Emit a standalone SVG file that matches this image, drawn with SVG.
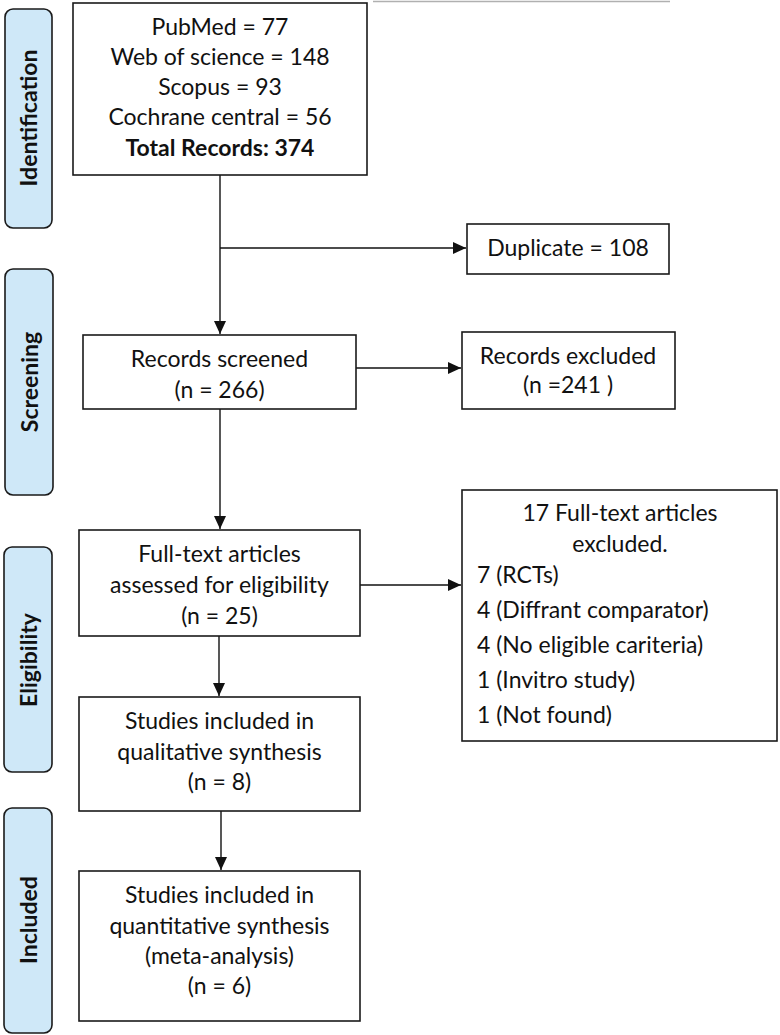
<svg xmlns="http://www.w3.org/2000/svg" width="780" height="1035" viewBox="0 0 780 1035">
<defs>
<style>
.box{fill:#fff;stroke:#1a1a1a;stroke-width:1.6}
.tab{fill:#cfe8f8;stroke:#1a1a1a;stroke-width:1.6}
.t{font-family:Lato,"Liberation Sans",sans-serif;font-size:23px;fill:#111;text-anchor:middle}
.l{text-anchor:start}
.b{font-weight:bold}
.tt{font-family:Lato,"Liberation Sans",sans-serif;font-size:23px;font-weight:bold;fill:#111;text-anchor:middle}
.c{fill:none;stroke:#111;stroke-width:1.4}
</style>
<marker id="ah" markerUnits="userSpaceOnUse" markerWidth="14" markerHeight="12" refX="13" refY="6" orient="auto">
<path d="M0,0 L13,6 L0,12 Z" fill="#111"/>
</marker>
</defs>
<rect width="780" height="1035" fill="#fff"/>
<line x1="373" y1="1.5" x2="670" y2="1.5" stroke="#b0b0b0" stroke-width="1.5"/>

<g id="tab-identification">
<rect class="tab" x="5" y="9" width="47" height="219" rx="8"/>
<text class="tt" transform="translate(37,118) rotate(-90)">Identification</text>
</g>
<g id="tab-screening">
<rect class="tab" x="5" y="269" width="48" height="226" rx="8"/>
<text class="tt" transform="translate(38,382) rotate(-90)">Screening</text>
</g>
<g id="tab-eligibility">
<rect class="tab" x="4" y="547" width="48" height="225" rx="8"/>
<text class="tt" transform="translate(37,660) rotate(-90)">Eligibility</text>
</g>
<g id="tab-included">
<rect class="tab" x="4" y="808" width="48" height="225" rx="8"/>
<text class="tt" transform="translate(37,920) rotate(-90)">Included</text>
</g>

<g id="connectors">
<line class="c" x1="220" y1="175" x2="220" y2="334" marker-end="url(#ah)"/>
<line class="c" x1="220" y1="248" x2="466" y2="248" marker-end="url(#ah)"/>
<line class="c" x1="356" y1="368" x2="461" y2="368" marker-end="url(#ah)"/>
<line class="c" x1="220" y1="409" x2="220" y2="529" marker-end="url(#ah)"/>
<line class="c" x1="360" y1="585" x2="461" y2="585" marker-end="url(#ah)"/>
<line class="c" x1="219" y1="636" x2="219" y2="696" marker-end="url(#ah)"/>
<line class="c" x1="221" y1="811" x2="221" y2="870" marker-end="url(#ah)"/>
</g>

<g id="identification">
<rect class="box" x="73" y="3" width="294" height="172"/>
<text class="t" x="220" y="35">PubMed = 77</text>
<text class="t" x="220" y="65">Web of science = 148</text>
<text class="t" x="220" y="95">Scopus = 93</text>
<text class="t" x="220" y="125">Cochrane central = 56</text>
<text class="t b" x="220" y="156">Total Records: 374</text>
</g>
<g id="duplicate">
<rect class="box" x="467" y="224" width="202" height="50"/>
<text class="t" x="568" y="256">Duplicate = 108</text>
</g>
<g id="screened">
<rect class="box" x="83" y="335" width="273" height="74"/>
<text class="t" x="219.5" y="367">Records screened</text>
<text class="t" x="219.5" y="398">(n = 266)</text>
</g>
<g id="records-excluded">
<rect class="box" x="462" y="332" width="213" height="77"/>
<text class="t" x="568" y="364">Records excluded</text>
<text class="t" x="568" y="393">(n =241 )</text>
</g>
<g id="fulltext">
<rect class="box" x="79" y="530" width="281" height="106"/>
<text class="t" x="219.5" y="562">Full-text articles</text>
<text class="t" x="219.5" y="593">assessed for eligibility</text>
<text class="t" x="219.5" y="624">(n = 25)</text>
</g>
<g id="fulltext-excluded">
<rect class="box" x="462" y="490" width="315" height="251"/>
<text class="t" x="620" y="521">17 Full-text articles</text>
<text class="t" x="620" y="552">excluded.</text>
<text class="t l" x="477" y="583">7 (RCTs)</text>
<text class="t l" x="477" y="618">4 (Diffrant comparator)</text>
<text class="t l" x="477" y="653">4 (No eligible cariteria)</text>
<text class="t l" x="477" y="688">1 (Invitro study)</text>
<text class="t l" x="477" y="723">1 (Not found)</text>
</g>
<g id="qualitative">
<rect class="box" x="79" y="697" width="281" height="114"/>
<text class="t" x="219.5" y="729">Studies included in</text>
<text class="t" x="219.5" y="760">qualitative synthesis</text>
<text class="t" x="219.5" y="790">(n = 8)</text>
</g>
<g id="quantitative">
<rect class="box" x="79" y="871" width="281" height="150"/>
<text class="t" x="219.5" y="903">Studies included in</text>
<text class="t" x="219.5" y="934">quantitative synthesis</text>
<text class="t" x="219.5" y="964">(meta-analysis)</text>
<text class="t" x="219.5" y="994">(n = 6)</text>
</g>
</svg>
